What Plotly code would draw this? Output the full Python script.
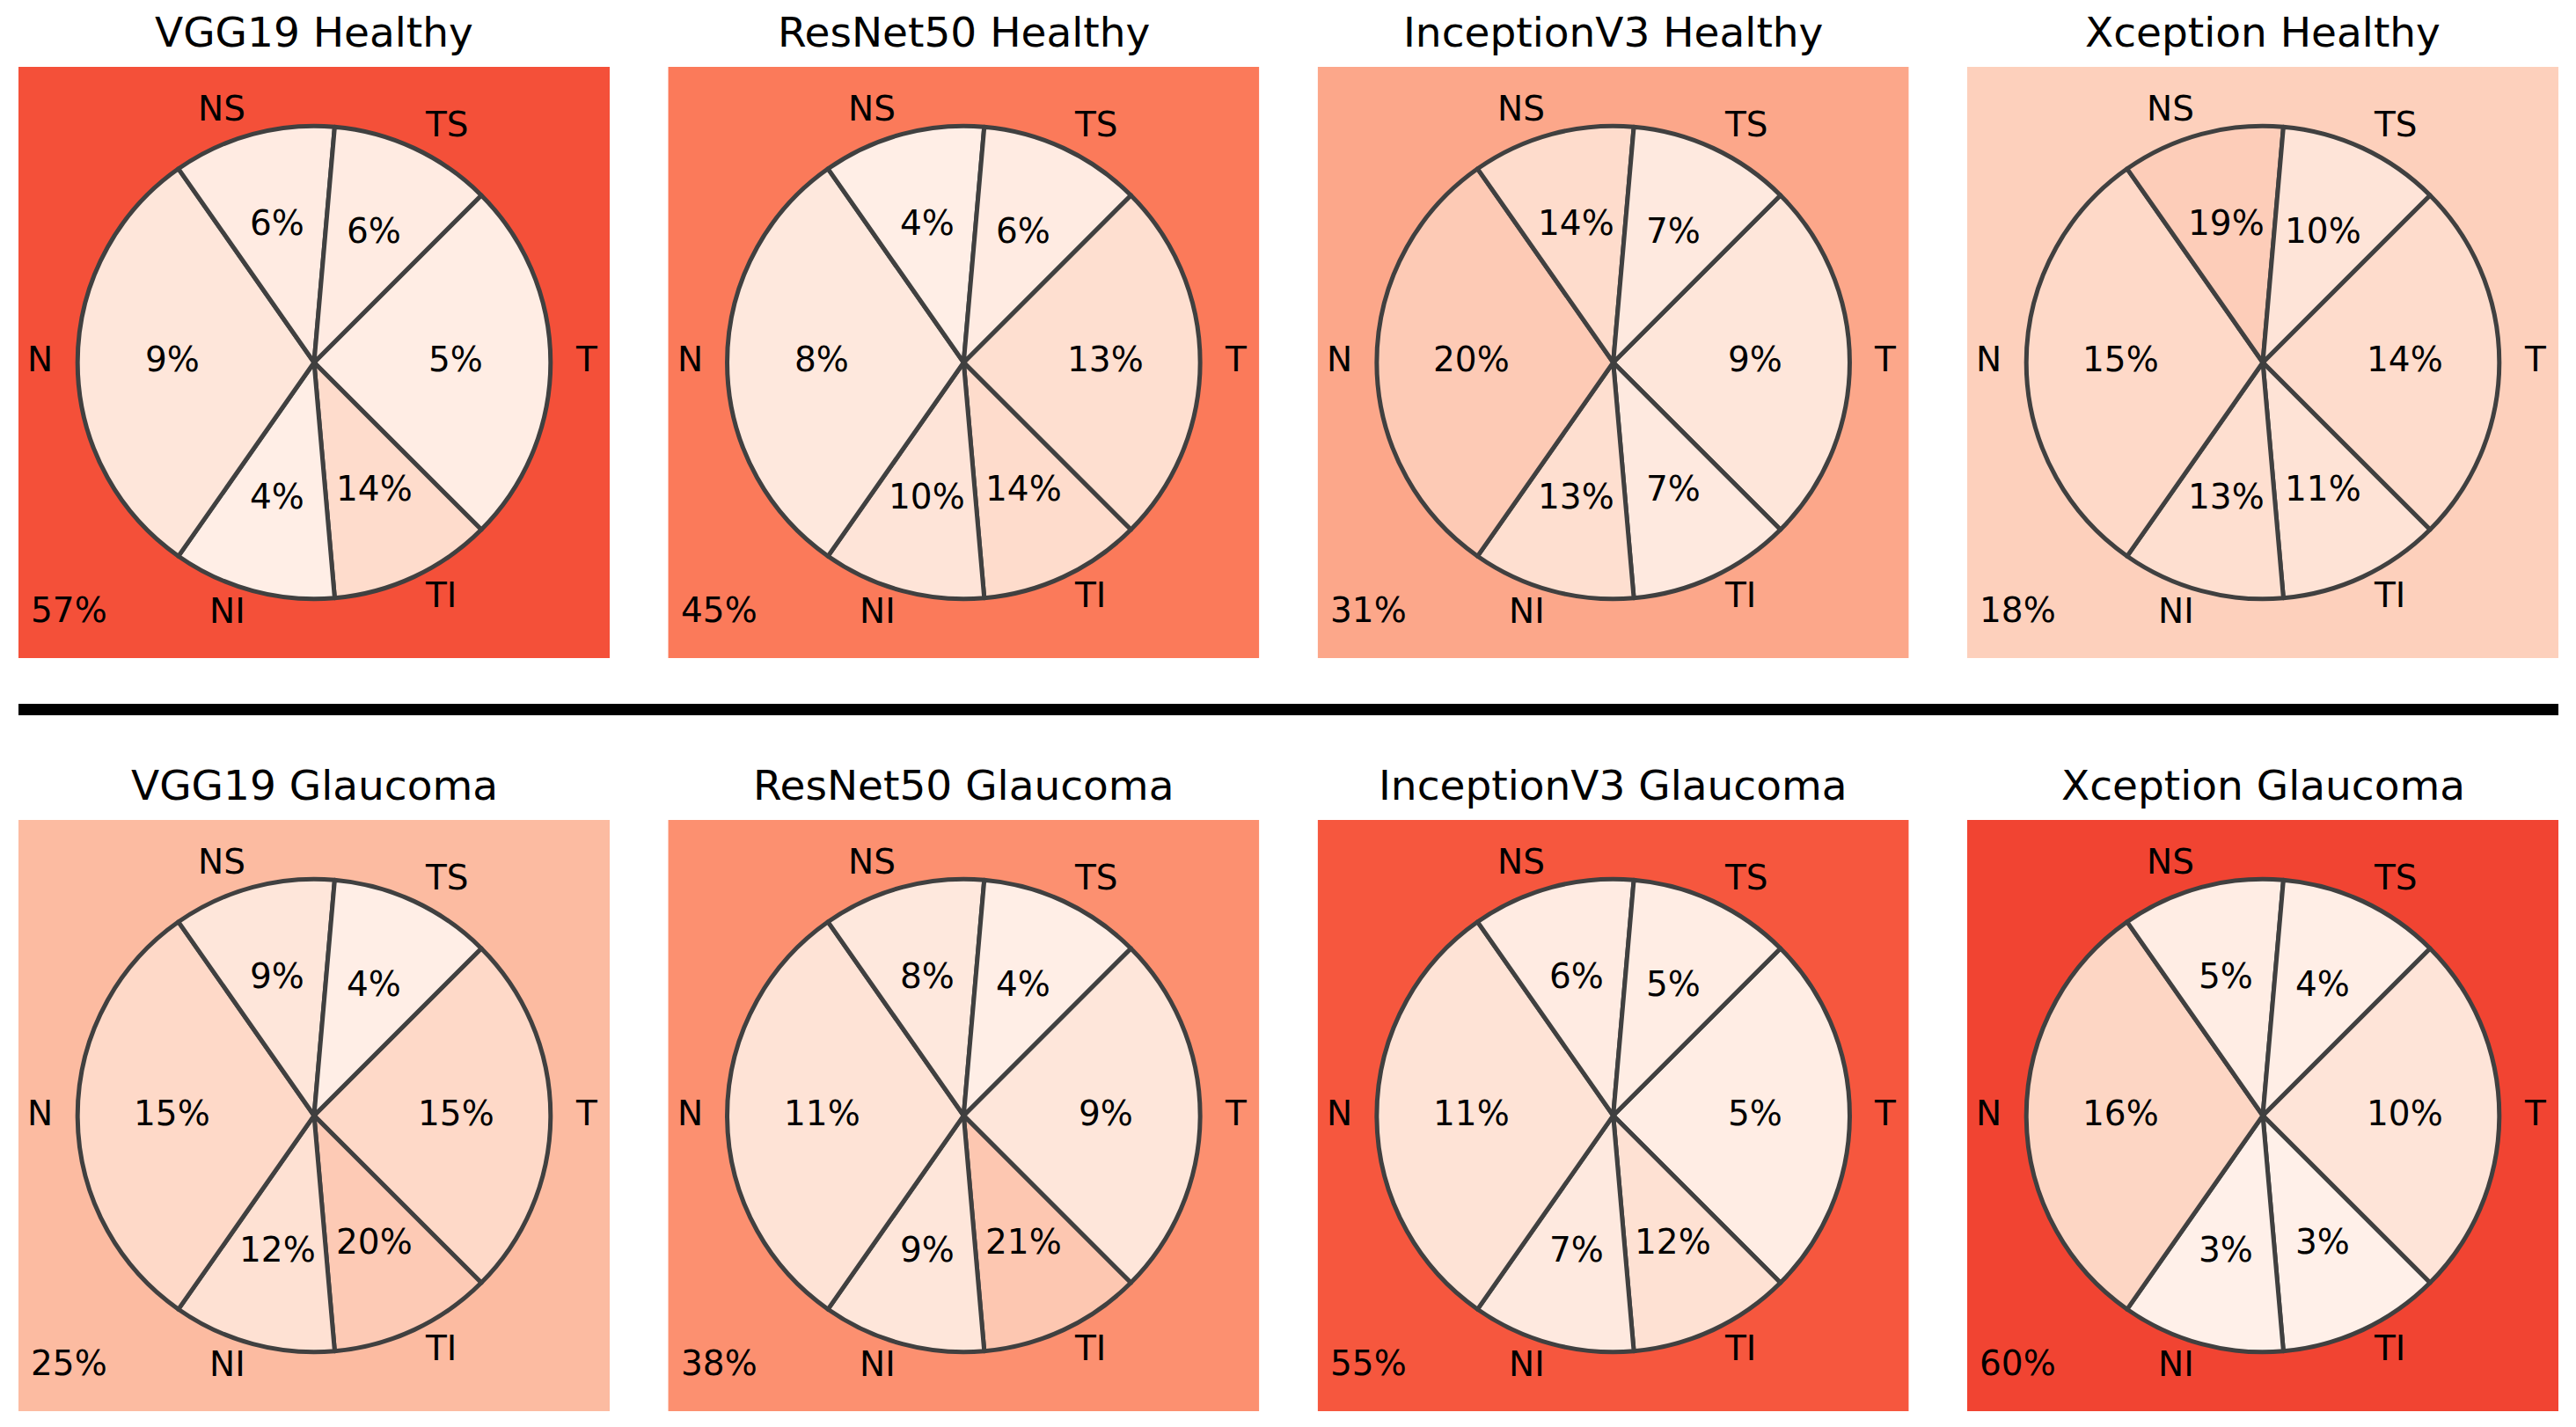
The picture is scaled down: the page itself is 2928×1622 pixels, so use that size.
import numpy as np
import plotly.graph_objects as go
from plotly.colors import sample_colorscale, sequential

# the page body has an 8px margin, so the figure is drawn 8px in from the corner
OFF = 8
W, H = 2928 - OFF, 1622 - OFF

models = ["VGG19", "ResNet50", "InceptionV3", "Xception"]
groups = ["Healthy", "Glaucoma"]

# Garway-Heath sectors, listed clockwise starting at the top edge of T
sectors = ["T", "TI", "NI", "N", "NS", "TS"]
sector_deg = [90, 40, 40, 110, 40, 40]

# sector percentages, same order as `sectors`
vgg19_healthy = [5, 14, 4, 9, 6, 6]
resnet50_healthy = [13, 14, 10, 8, 4, 6]
inceptionv3_healthy = [9, 7, 13, 20, 14, 7]
xception_healthy = [14, 11, 13, 15, 19, 10]
vgg19_glaucoma = [15, 20, 12, 15, 9, 4]
resnet50_glaucoma = [9, 21, 9, 11, 8, 4]
inceptionv3_glaucoma = [5, 12, 7, 11, 6, 5]
xception_glaucoma = [10, 3, 3, 16, 5, 4]

# outside-the-disc share (background)
healthy_outer = [57, 45, 31, 18]
glaucoma_outer = [25, 38, 55, 60]

panels = [
    [vgg19_healthy, resnet50_healthy, inceptionv3_healthy, xception_healthy],
    [vgg19_glaucoma, resnet50_glaucoma, inceptionv3_glaucoma, xception_glaucoma],
]
outers = [healthy_outer, glaucoma_outer]


def reds(v):
    return sample_colorscale(sequential.Reds, [min(max(v / 100, 0), 1)])[0]


def px(x):
    return (x - OFF) / W


def py(y):
    return 1 - (y - OFF) / H


FONT = "DejaVu Sans"
SIZE = 672           # panel size in px
HALF = SIZE / 2
R = HALF / 1.25      # pie radius, axes span -1.25..1.25
lefts = [21 + i * (2236 - 21) / 3 for i in range(4)]
tops = [76, 932]

fig = go.Figure()
layout = dict(shapes=[], annotations=[])

start = 45  # T starts at 45 deg (maths angle), going clockwise
cum = np.concatenate([[0], np.cumsum(sector_deg)[:-1]])
mid = np.radians(start - (cum + np.array(sector_deg) / 2))

k = 0
for row in range(2):
    for col in range(4):
        k += 1
        ax = "" if k == 1 else str(k)
        x0 = lefts[col]
        y0 = tops[row]
        cx, cy = x0 + HALF, y0 + HALF
        layout["xaxis" + ax] = dict(domain=[px(x0), px(x0 + SIZE)], range=[-1.25, 1.25],
                                   visible=False, anchor="y" + ax, fixedrange=True)
        layout["yaxis" + ax] = dict(domain=[py(y0 + SIZE), py(y0)], range=[-1.25, 1.25],
                                   visible=False, anchor="x" + ax, fixedrange=True)
        vals = panels[row][col]
        outer = outers[row][col]

        layout["shapes"].append(dict(type="rect", xref="x" + ax, yref="y" + ax,
                                     x0=-1.25, x1=1.25, y0=-1.25, y1=1.25,
                                     fillcolor=reds(outer), line=dict(width=0), layer="below"))

        fig.add_trace(go.Pie(
            labels=sectors, values=sector_deg, sort=False, direction="clockwise",
            rotation=start, textinfo="none", hoverinfo="skip", showlegend=False,
            marker=dict(colors=[reds(v) for v in vals], line=dict(color="#404040", width=5)),
            domain=dict(x=[px(cx - R), px(cx + R)], y=[py(cy + R), py(cy - R)]),
        ))

        for name, v, a in zip(sectors, vals, mid):
            layout["annotations"].append(dict(
                xref="x" + ax, yref="y" + ax, x=0.6 * np.cos(a), y=0.6 * np.sin(a),
                text=f"{v}%", showarrow=False, xanchor="center", yanchor="middle",
                yshift=3, borderpad=0, font=dict(family=FONT, size=39, color="black")))
            lx = 1.1 * np.cos(a)
            layout["annotations"].append(dict(
                xref="x" + ax, yref="y" + ax, x=lx, y=1.1 * np.sin(a),
                text=name, showarrow=False, xanchor="left" if lx > 0 else "right",
                yanchor="middle", yshift=3, borderpad=0,
                font=dict(family=FONT, size=39, color="black")))

        layout["annotations"].append(dict(
            xref="x" + ax, yref="y" + ax, x=-1.2, y=-1.1, text=f"{outer}%",
            showarrow=False, xanchor="left", yanchor="bottom", yshift=-9, borderpad=0,
            font=dict(family=FONT, size=39, color="black")))

        layout["annotations"].append(dict(
            xref="paper", yref="paper", x=px(cx), y=py(y0 - 40),
            text=f"{models[col]} {groups[row]}", showarrow=False,
            xanchor="center", yanchor="middle", borderpad=0,
            font=dict(family=FONT, size=47, color="black")))

# separator between the two rows
layout["shapes"].append(dict(type="rect", xref="paper", yref="paper",
                             x0=px(21), x1=px(2908), y0=py(813), y1=py(800),
                             fillcolor="black", line=dict(width=0)))

fig.update_layout(
    width=W, height=H, margin=dict(l=0, r=0, t=0, b=0),
    paper_bgcolor="white", plot_bgcolor="rgba(0,0,0,0)",
    **layout,
)

fig.write_html("out.html")
